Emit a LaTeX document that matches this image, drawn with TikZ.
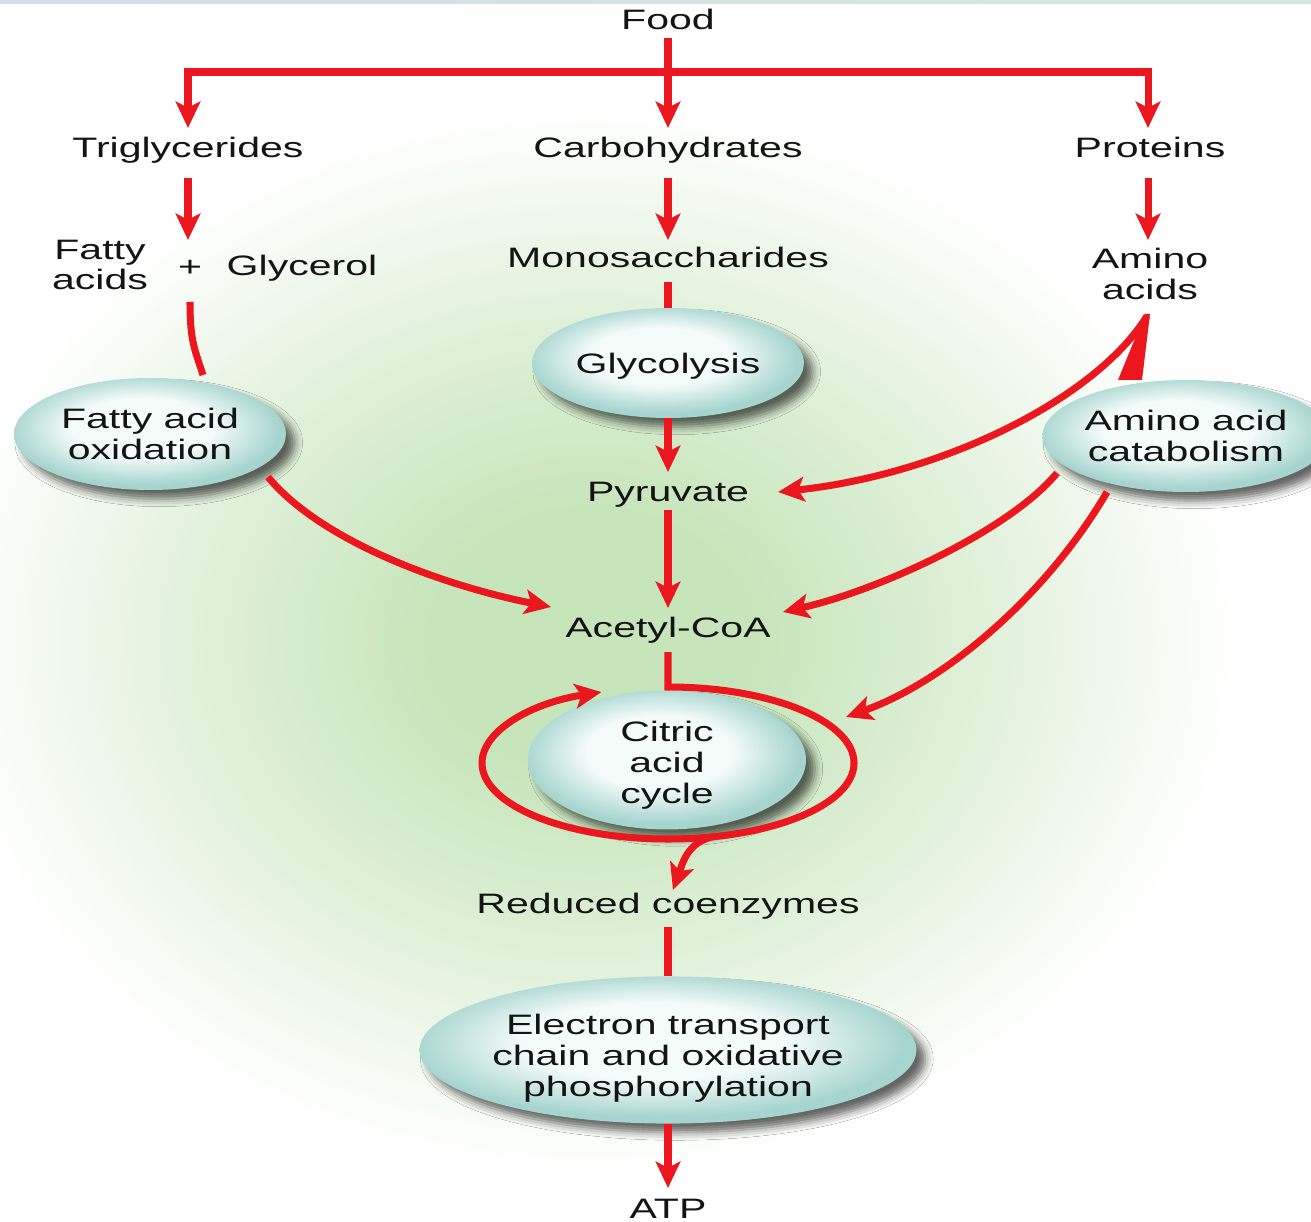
\documentclass[tikz,border=0pt]{standalone}
\usepackage{fontspec}
\setmainfont{Liberation Sans}[FakeStretch=1.46]
\usetikzlibrary{arrows.meta,shapes.geometric,shadows.blur}
\definecolor{flowred}{RGB}{236,22,30}
\definecolor{txt}{RGB}{20,20,20}
\definecolor{pillin}{RGB}{244,252,250}
\definecolor{pillout}{RGB}{166,212,207}
\definecolor{glowc}{RGB}{198,229,186}
\definecolor{stripA}{RGB}{214,222,234}
\definecolor{stripB}{RGB}{212,232,222}
\pgfdeclareradialshading{pillshade}{\pgfpoint{-2bp}{4bp}}{color(0bp)=(pillin); color(13bp)=(pillin); color(25bp)=(pillout); color(50bp)=(pillout)}
\pgfdeclareradialshading{glowshade}{\pgfpoint{0bp}{0bp}}{color(0bp)=(glowc); color(6bp)=(glowc); color(15bp)=(glowc!55!white); color(25bp)=(white); color(50bp)=(white)}
\begin{document}
\begin{tikzpicture}[x=0.02cm,y=0.02cm,
  lbl/.style={font=\fontsize{16pt}{17.6pt}\selectfont, text=txt, inner sep=0pt, align=center},
  tl/.style={lbl, anchor=base},
  pill/.style={lbl, ellipse, shading=pillshade, draw=none,
    blur shadow={shadow xshift=5pt, shadow yshift=-5pt, shadow blur radius=4.5pt, shadow opacity=60}},
  flow/.style={draw=flowred, line width=4pt, line join=miter},
  arr/.style={flow, -{Stealth[length=15pt,width=14pt,inset=3.5pt]}},
]
\useasboundingbox (0,0) rectangle (1311,-1222);
\fill[white] (0,0) rectangle (1311,-1222);
\shade[shading=glowshade] (-60,-110) rectangle (1240,-1170);
\shade[left color=stripA, right color=stripB] (0,0) rectangle (1311,-4);

% text nodes
\node[tl] (food) at (668,-30) {Food};
\node[tl] (trig) at (188,-158) {Triglycerides};
\node[tl] (carb) at (668,-158) {Carbohydrates};
\node[tl] (prot) at (1150,-158) {Proteins};
\node[lbl] (fatty) at (100,-265) {Fatty\\acids};
\node[tl] (plus) at (190,-277) {+};
\node[tl] (glyc) at (302,-276) {Glycerol};
\node[tl] (mono) at (668,-268) {Monosaccharides};
\node[lbl] (amino) at (1150,-274) {Amino\\acids};
\node[tl] (pyr) at (668,-502) {Pyruvate};
\node[tl] (acetyl) at (668,-637) {Acetyl-CoA};
\node[tl] (red) at (668,-913) {Reduced coenzymes};
\node[tl] (atp) at (668,-1218) {ATP};

% ellipses
\node[pill, minimum width=5.44cm, minimum height=2.2cm] (gly) at (668,-363) {\rule{0pt}{15pt}Glycolysis};
\node[pill, minimum width=5.44cm, minimum height=2.24cm] (fao) at (150,-434) {Fatty acid\\oxidation};
\node[pill, minimum width=5.44cm, minimum height=2.24cm] (aac) at (1186,-436) {Amino acid\\catabolism};
\node[pill, minimum width=5.56cm, minimum height=2.32cm] (cac) at (667,-760) {\rule{0pt}{17.4pt}Citric\\acid\\cycle};
\node[pill, minimum width=9.88cm, minimum height=2.88cm] (etc) at (668,-1050) {\rule{0pt}{20.7pt}Electron transport\\chain and oxidative\\phosphorylation};

% connectors
\coordinate (bar) at ([shift={(0,-42)}]food.base);
\draw[arr] ([shift={(0,-8)}]food.base) -- ([shift={(0,30)}]carb.base);
\draw[arr] (bar) -| ([shift={(0,30)}]trig.base);
\draw[arr] (bar) -| ([shift={(-2,30)}]prot.base);
\draw[arr] ([shift={(0,-20)}]trig.base) -- ([shift={(-2,37)}]plus.base);
\draw[arr] ([shift={(0,-20)}]carb.base) -- ([shift={(0,28)}]mono.base);
\draw[arr] ([shift={(-2,-20)}]prot.base) -- ([shift={(-2,34)}]amino.center);
\draw[flow] ([shift={(0,-25)}]plus.base) .. controls +(0,-40) and +(-8,25) .. ([shift={(53,59)}]fao.center);
\draw[flow] ([shift={(0,-14)}]mono.base) -- (gly.north);
\draw[arr] (gly.south) -- ([shift={(0,30)}]pyr.base);
\draw[arr] ([shift={(0,-8)}]pyr.base) -- ([shift={(0,29)}]acetyl.base);
\draw[arr] ([shift={(118,-43)}]fao.center) .. controls +(52,-63) and +(-111,22) .. ([shift={(-117,30)}]acetyl.base);
\draw[arr] ([shift={(-3,-42)}]amino.center) .. controls +(-52,-84) and +(162,17) .. ([shift={(110,10)}]pyr.base);
\fill[flowred] ([shift={(-68,56)}]aac.center) -- ([shift={(-44,56)}]aac.center) -- ([shift={(0,-40)}]amino.center) -- ([shift={(-5,-40)}]amino.center) -- cycle;
\draw[arr] ([shift={(-129,-37)}]aac.center) .. controls +(-47,-57) and +(97,22) .. ([shift={(115,25)}]acetyl.base);
\draw[arr] ([shift={(-79,-56)}]aac.center) .. controls +(-57,-98) and +(104,37) .. ([shift={(179,43)}]cac.center);
\draw[arr] ([shift={(0,-15)}]acetyl.base) -- ++(0,-35) arc[start angle=90, end angle=-249, x radius=186, y radius=76];
\draw[arr] ([shift={(49,-76)}]cac.center) .. controls +(-28,-5) and +(10,28) .. ([shift={(5,23)}]red.base);
\draw[flow] ([shift={(0,-14)}]red.base) -- (etc.north);
\draw[arr] (etc.south) -- ([shift={(0,30)}]atp.base);
\end{tikzpicture}
\end{document}
